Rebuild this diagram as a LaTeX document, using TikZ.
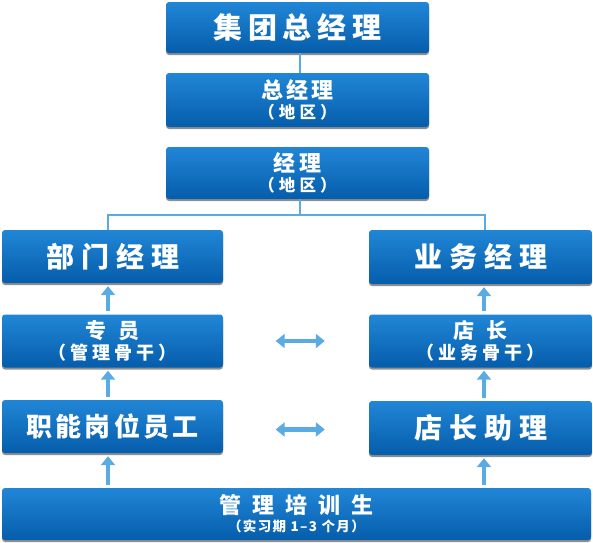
\documentclass[tikz,border=0pt]{standalone}
\usepackage{fontspec}
\newfontfamily\cjk{Noto Sans CJK SC}
\usetikzlibrary{arrows.meta,shadows}
\definecolor{boxtop}{HTML}{2186D6}
\definecolor{boxbot}{HTML}{055DAB}
\definecolor{lineblue}{HTML}{5AABE3}
\newcommand\Tx[3]{{\fontsize{#1}{#1}\selectfont\addfontfeature{LetterSpace=#2}#3}}
\tikzset{
  orgbox/.style={rounded corners=3pt, top color=boxtop, bottom color=boxbot,
    draw=none, text=white, font=\cjk\bfseries, align=center, inner sep=0pt,
    drop shadow={shadow xshift=0pt,shadow yshift=-2pt,opacity=0.55,fill=black!80}},
  link/.style={draw=lineblue, line width=1.8pt},
  uparrow/.style={draw=lineblue, line width=4.5pt, shorten >=3pt, shorten <=3pt,
    -{Triangle[width=14pt,length=9pt]}},
  bothway/.style={draw=lineblue, line width=4.5pt,
    {Triangle[width=14pt,length=9pt]}-{Triangle[width=14pt,length=9pt]}},
}
\begin{document}
\begin{tikzpicture}[x=1pt,y=-1pt]
\useasboundingbox (0,0) rectangle (593,542);
\node[orgbox, minimum width=263pt, minimum height=51pt] (g) at (297.5,27.5) {\Tx{29}{20}{集团总经理}};
\node[orgbox, minimum width=263pt, minimum height=54pt] (z) at (297.5,100) {\Tx{22}{14}{总经理}\\[3pt]\Tx{16.5}{25}{（地区）}};
\node[orgbox, minimum width=263pt, minimum height=52pt] (j) at (297.5,173) {\Tx{22}{14}{经理}\\[3pt]\Tx{16.5}{25}{（地区）}};
\node[orgbox, minimum width=221pt, minimum height=53pt] (bm) at (112.5,256.5) {\Tx{28}{25}{部门经理}};
\node[orgbox, minimum width=223pt, minimum height=54pt] (yw) at (480.5,257) {\Tx{28}{25}{业务经理}};
\node[orgbox, minimum width=221pt, minimum height=53pt] (zy) at (112.5,341) {\Tx{21}{55}{专员}\\[2pt]\Tx{18}{22}{（管理骨干）}};
\node[orgbox, minimum width=223pt, minimum height=53pt] (dz) at (480.5,341) {\Tx{21}{55}{店长}\\[2pt]\Tx{18}{22}{（业务骨干）}};
\node[orgbox, minimum width=221pt, minimum height=53pt] (zn) at (112.5,426.5) {\Tx{26}{12}{职能岗位员工}};
\node[orgbox, minimum width=223pt, minimum height=54pt] (dl) at (480.5,428) {\Tx{28}{25}{店长助理}};
\node[orgbox, minimum width=589pt, minimum height=52pt] (px) at (296.5,514) {\Tx{22}{50}{管理培训生}\\[3pt]\Tx{13.5}{10}{（实习期 1–3 个月）}};
\coordinate (split) at (300,215);
\draw[link] ([xshift=2.5pt]g.south) -- ([xshift=2.5pt]z.north);
\draw[link] ([xshift=2.5pt]j.south) -- (split);
\draw[link] ([xshift=-4.5pt]bm.north) |- (split) -| ([xshift=4.5pt]yw.north);
\draw[uparrow] ([xshift=-4.5pt]zy.north) -- ([xshift=-4.5pt]bm.south);
\draw[uparrow] ([xshift=-4.5pt]zn.north) -- ([xshift=-4.5pt]zy.south);
\draw[uparrow] ([xshift=-4.5pt]px.north -| zn.north) -- ([xshift=-4.5pt]zn.south);
\draw[uparrow] ([xshift=3.5pt]dz.north) -- ([xshift=3.5pt]yw.south);
\draw[uparrow] ([xshift=3.5pt]dl.north) -- ([xshift=3.5pt]dz.south);
\draw[uparrow] ([xshift=3.5pt]px.north -| dl.north) -- ([xshift=3.5pt]dl.south);
\draw[bothway] ([xshift=52.5pt]zy.east) -- ([xshift=-44pt]dz.west);
\draw[bothway] ([xshift=52.5pt,yshift=-3pt]zn.east) -- ([xshift=-44pt,yshift=-3pt]zn.east -| dl.west);
\end{tikzpicture}
\end{document}
